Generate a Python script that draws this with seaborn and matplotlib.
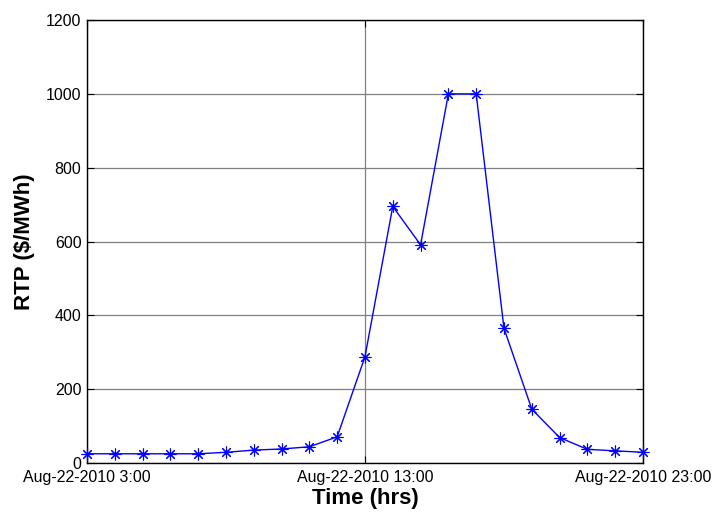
import matplotlib
matplotlib.use("Agg")
import matplotlib.pyplot as plt
import seaborn as sns
import pandas as pd

hours = [3, 4, 5, 6, 7, 8, 9, 10, 11, 12, 13, 14, 15, 16, 17, 18, 19, 20, 21, 22, 23]
rtp = [25, 25, 25, 25, 25, 29, 35, 38, 44, 71, 288, 695, 591, 1000, 1000, 365, 146, 69, 37, 33, 29]
xtick_hours = [3, 13, 23]
xtick_labels = ["Aug-22-2010 3:00", "Aug-22-2010 13:00", "Aug-22-2010 23:00"]
ytick_vals = [0, 200, 400, 600, 800, 1000, 1200]

df = pd.DataFrame({"hour": hours, "rtp": rtp})

sns.set_style("white")
plt.rcParams["font.family"] = ["Liberation Sans", "DejaVu Sans"]
plt.rcParams["text.color"] = "black"
plt.rcParams["axes.labelcolor"] = "black"

fig = plt.figure(figsize=(7.16, 5.14), dpi=100)
ax = fig.add_axes([0.1215, 0.0992, 0.7765, 0.8618])

sns.lineplot(data=df, x="hour", y="rtp", ax=ax, color="#0000ff", linewidth=1.0,
             marker=(8, 2, 0), markersize=8.5, markeredgewidth=0.8,
             markeredgecolor="#0000ff", markerfacecolor="#0000ff",
             clip_on=False, zorder=3)

ax.set_xlim(3, 23)
ax.set_ylim(0, 1200)
ax.set_xticks(xtick_hours)
ax.set_xticklabels(xtick_labels)
ax.set_yticks(ytick_vals)
ax.set_yticklabels([str(v) for v in ytick_vals])
ax.grid(True, color="#808080", linewidth=0.9, linestyle="-")
ax.set_axisbelow(True)
ax.tick_params(axis="both", direction="in", length=5, width=0.8, labelsize=11.5,
               colors="black", top=True, right=True, bottom=True, left=True)
ax.tick_params(axis="x", pad=5)
ax.tick_params(axis="y", pad=4)
for s in ax.spines.values():
    s.set_visible(True)
    s.set_color("black")
    s.set_linewidth(1.0)

ax.set_xlabel("Time (hrs)", fontsize=16, fontweight="bold", labelpad=2, color="black")
ax.set_ylabel("RTP ($/MWh)", fontsize=16, fontweight="bold", labelpad=8, color="black")

fig.savefig("out.png", dpi=100)
